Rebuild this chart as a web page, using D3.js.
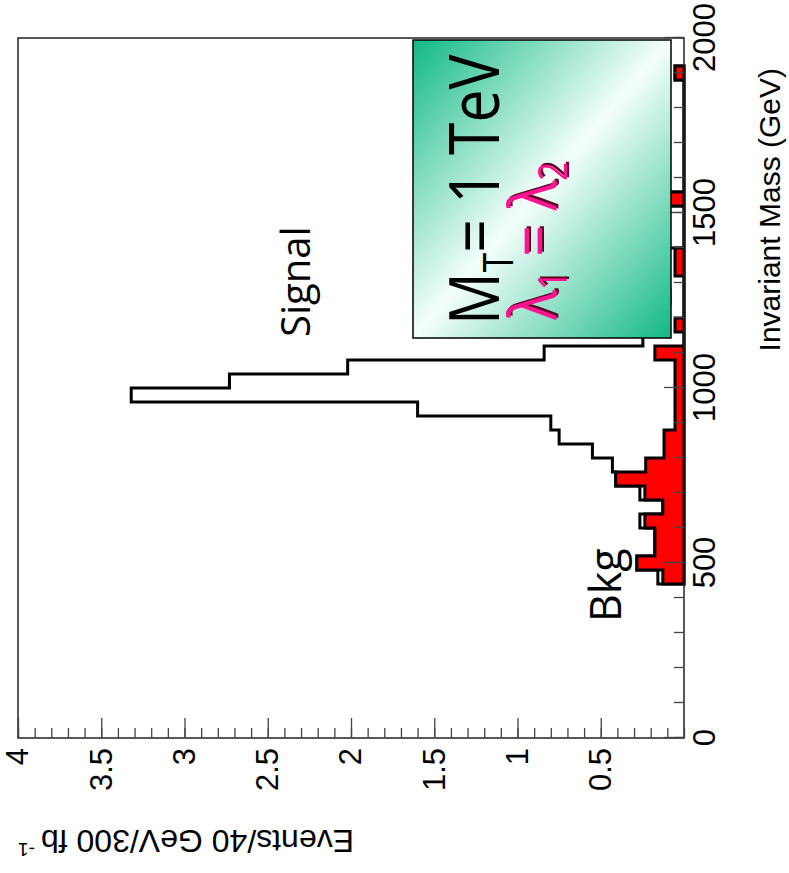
<!DOCTYPE html>
<html>
<head>
<meta charset="utf-8">
<script src="https://cdn.jsdelivr.net/npm/d3@7"></script>
<style>
  body { margin: 0; background: #fff; }
  svg { display: block; }
</style>
</head>
<body>
<svg id="chart" width="789" height="873"></svg>
<script>
// 40 GeV bins (lower edges, GeV)
const binLow = [440, 480, 520, 560, 600, 640, 680, 720, 760, 800, 840, 880, 920, 960,
  1000, 1040, 1080, 1120, 1160, 1200, 1240, 1280, 1320, 1360, 1400, 1440, 1480, 1520,
  1560, 1600, 1640, 1680, 1720, 1760, 1800, 1840, 1880];
const binWidth = 40;
// signal + background (open histogram)
const totalEvents = [0.157, 0.283, 0.175, 0.175, 0.265, 0.127, 0.265, 0.41, 0.43, 0.55, 0.75, 0.80, 1.60, 3.32,
  2.73, 2.02, 0.84, 0.247, 0.223, 0.114, 0.084, 0.114, 0.096, 0.14, 0, 0, 0, 0.12,
  0, 0, 0, 0, 0, 0, 0, 0, 0.054];
// background only (red histogram)
const bkgEvents = [0.127, 0.283, 0.175, 0.175, 0.235, 0.127, 0.235, 0.41, 0.23, 0.12, 0.12, 0.054, 0.054, 0.054,
  0.054, 0.054, 0.175, 0, 0.054, 0, 0, 0, 0.054, 0.054, 0, 0, 0, 0.12,
  0, 0, 0, 0, 0, 0, 0, 0, 0.054];

const massTicks = [0, 500, 1000, 1500, 2000];
const eventTicks = [0.5, 1, 1.5, 2, 2.5, 3, 3.5, 4];
const eventTickLabels = ["0.5", "1", "1.5", "2", "2.5", "3", "3.5", "4"];

const xTitle = "Invariant Mass (GeV)";
const yTitle = "Events/40 GeV/300 fb";
const yTitleSup = "-1";

const W = 700, H = 666;           // plot frame in the chart's own (unrotated) frame
const svg = d3.select("#chart");

// the whole histogram is drawn lying on its side: mass runs upward, events run leftward
const g = svg.append("g").attr("transform", "translate(18,738) rotate(-90)");

const x = d3.scaleLinear().domain([0, 2000]).range([0, W]);
const y = d3.scaleLinear().domain([0, 4]).range([H, 0]);

// gradient for the parameter box
const defs = svg.append("defs");
const grad = defs.append("linearGradient").attr("id", "boxGrad")
  .attr("x1", "1").attr("y1", "0").attr("x2", "0").attr("y2", "1");
grad.append("stop").attr("offset", "0%").attr("stop-color", "#12b886");
grad.append("stop").attr("offset", "50%").attr("stop-color", "#f4fffa");
grad.append("stop").attr("offset", "100%").attr("stop-color", "#12b886");

function stepPoints(values) {
  const pts = [[binLow[0], 0]];
  values.forEach((v, i) => {
    pts.push([binLow[i], v]);
    pts.push([binLow[i] + binWidth, v]);
  });
  pts.push([binLow[binLow.length - 1] + binWidth, 0]);
  return pts;
}
const stepLine = d3.line().x(d => x(d[0])).y(d => y(d[1]));

g.append("path")
  .attr("d", stepLine(stepPoints(totalEvents)) + "Z")
  .attr("fill", "#fff").attr("stroke", "#000").attr("stroke-width", 3)
  .attr("stroke-linejoin", "miter");
g.append("path")
  .attr("d", stepLine(stepPoints(bkgEvents)) + "Z")
  .attr("fill", "#ff0000").attr("stroke", "#000").attr("stroke-width", 3)
  .attr("stroke-linejoin", "miter");

// frame
g.append("rect").attr("x", 0).attr("y", 0).attr("width", W).attr("height", H)
  .attr("fill", "none").attr("stroke", "#222").attr("stroke-width", 1.5);

// mass axis (minor + major ticks pointing into the frame)
const tickFont = "'Liberation Sans', Arial, sans-serif";
g.append("g").attr("transform", `translate(0,${H})`)
  .call(d3.axisBottom(x).tickValues(d3.range(0, 2001, 100)).tickSize(-10).tickFormat(""))
  .call(a => a.select(".domain").remove())
  .call(a => a.selectAll("line").attr("stroke", "#444").attr("stroke-width", 1.3));
g.append("g").attr("transform", `translate(0,${H})`)
  .call(d3.axisBottom(x).tickValues(massTicks).tickSize(-20).tickPadding(9).tickFormat(d3.format("d")))
  .call(a => a.select(".domain").remove())
  .call(a => a.selectAll("line").attr("stroke", "#444").attr("stroke-width", 1.3))
  .call(a => a.selectAll("text").attr("fill", "#000")
    .style("font-family", tickFont).style("font-size", "31px"));

// events axis
g.append("g")
  .call(d3.axisLeft(y).tickValues(d3.range(0, 4.001, 0.1)).tickSize(-10).tickFormat(""))
  .call(a => a.select(".domain").remove())
  .call(a => a.selectAll("line").attr("stroke", "#444").attr("stroke-width", 1.3));
g.append("g")
  .call(d3.axisLeft(y).tickValues(eventTicks).tickSize(-20).tickPadding(10)
    .tickFormat((d, i) => eventTickLabels[i]))
  .call(a => a.select(".domain").remove())
  .call(a => a.selectAll("line").attr("stroke", "#444").attr("stroke-width", 1.3))
  .call(a => a.selectAll("text").attr("fill", "#000")
    .style("font-family", tickFont).style("font-size", "31px"));

// axis titles
g.append("text")
  .attr("x", 670).attr("y", 762).attr("text-anchor", "end")
  .style("font-family", tickFont).style("font-size", "30px").attr("fill", "#000")
  .text(xTitle);
const yt = g.append("text")
  .attr("transform", "translate(-92,0) rotate(-90)")
  .attr("text-anchor", "end")
  .style("font-family", tickFont).style("font-size", "32px").attr("fill", "#000");
yt.append("tspan").text(yTitle);
yt.append("tspan").attr("dx", 6).attr("dy", -13).style("font-size", "19px").text(yTitleSup);

// annotations
const noteFont = "'Open Sans', 'Noto Sans', sans-serif";
g.append("text").attr("x", 401).attr("y", 292)
  .style("font-family", noteFont).style("font-size", "40px").attr("fill", "#000").text("Signal");
g.append("text").attr("x", 116).attr("y", 603)
  .style("font-family", noteFont).style("font-size", "43px").attr("fill", "#000").text("Bkg");

// parameter box
const box = g.append("g");
box.append("rect").attr("x", 400).attr("y", 395).attr("width", 298).attr("height", 258)
  .attr("fill", "url(#boxGrad)").attr("stroke", "#000").attr("stroke-width", 1.5);
const mt = box.append("text").attr("transform", "translate(413,481) scale(0.84,1)")
  .style("font-family", noteFont).style("font-size", "70px").style("font-weight", 500)
  .attr("fill", "#000");
mt.append("tspan").text("M");
mt.append("tspan").attr("dy", 14).style("font-size", "42px").text("T");
mt.append("tspan").attr("dy", -14).text("= 1 TeV");

function lambdaText(dx, dy, fill) {
  const t = box.append("text").attr("transform", `translate(${418 + dx},${538 + dy}) scale(0.84,1)`)
    .style("font-family", noteFont).style("font-size", "66px").style("font-weight", 500)
    .attr("fill", fill);
  t.append("tspan").text("λ");
  t.append("tspan").attr("dy", 11).style("font-size", "40px").text("1");
  t.append("tspan").attr("dy", -11).text(" = λ");
  t.append("tspan").attr("dy", 11).style("font-size", "40px").text("2");
}
lambdaText(2, 2, "#5a0022");
lambdaText(0, 0, "#ff1493");
</script>
</body>
</html>
